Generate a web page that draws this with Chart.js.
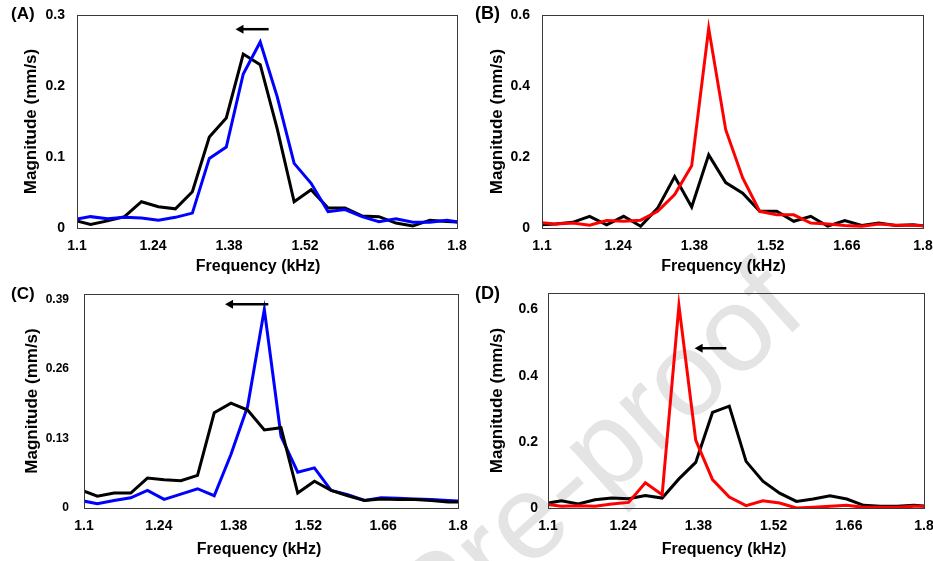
<!DOCTYPE html>
<html>
<head>
<meta charset="utf-8">
<script src="https://cdn.jsdelivr.net/npm/chart.js@4.4.1/dist/chart.umd.min.js"></script>
<style>
  html, body { margin: 0; padding: 0; background: #fff; }
  #wrap { position: relative; width: 933px; height: 561px; overflow: hidden; font-family: Arial, 'Liberation Sans', sans-serif; }
  #wrap canvas { position: absolute; }
  #wrap svg { position: absolute; left: 0; top: 0; }
  .tag { position: absolute; font-weight: bold; line-height: 1; color: #000; }
</style>
</head>
<body>
<div id="wrap">
  <svg width="933" height="561">
    <text id="mark" x="0" y="0" font-family="Arial, 'Liberation Sans', sans-serif" font-size="120" fill="#e4e4e4">Journal Pre-proof</text>
  </svg>
  <canvas id="chartA" width="490" height="300" style="left:0;top:-10px"></canvas>
  <canvas id="chartB" width="490" height="300" style="left:466px;top:-10px"></canvas>
  <canvas id="chartC" width="490" height="300" style="left:0;top:270px"></canvas>
  <canvas id="chartD" width="490" height="300" style="left:466px;top:270px"></canvas>
  <div class="tag" style="left:11px;top:5px;font-size:17px">(A)</div>
  <div class="tag" style="left:475px;top:4px;font-size:18px">(B)</div>
  <div class="tag" style="left:11px;top:285px;font-size:17px">(C)</div>
  <div class="tag" style="left:475px;top:284px;font-size:18px">(D)</div>
</div>
<script>
// ---- DATA ----
const freqKHz = [1.09375, 1.125, 1.15625, 1.1875, 1.21875, 1.25, 1.28125, 1.3125,
                 1.34375, 1.375, 1.40625, 1.4375, 1.46875, 1.5, 1.53125, 1.5625,
                 1.59375, 1.625, 1.65625, 1.6875, 1.71875, 1.75, 1.78125, 1.8125];

const xTicks = [1.1, 1.24, 1.38, 1.52, 1.66, 1.8];

const aBlack = [0.011, 0.005, 0.010, 0.016, 0.037, 0.030, 0.027, 0.051, 0.128, 0.155, 0.245, 0.230,
                0.140, 0.037, 0.054, 0.028, 0.028, 0.017, 0.016, 0.007, 0.003, 0.011, 0.009, 0.008];
const aBlue  = [0.012, 0.016, 0.013, 0.015, 0.014, 0.011, 0.015, 0.021, 0.098, 0.114, 0.217, 0.262,
                0.185, 0.091, 0.063, 0.023, 0.026, 0.016, 0.009, 0.013, 0.008, 0.008, 0.011, 0.007];
const aYTicks = [0, 0.1, 0.2, 0.3];

const bBlack = [0.009, 0.011, 0.016, 0.033, 0.009, 0.033, 0.005, 0.056, 0.145, 0.059, 0.206, 0.128,
                0.098, 0.047, 0.047, 0.019, 0.033, 0.005, 0.021, 0.007, 0.014, 0.007, 0.009, 0.005];
const bRed   = [0.016, 0.011, 0.014, 0.008, 0.021, 0.019, 0.022, 0.047, 0.094, 0.175, 0.5625, 0.277,
                0.141, 0.047, 0.037, 0.037, 0.014, 0.011, 0.007, 0.005, 0.011, 0.008, 0.008, 0.005];
const bYTicks = [0, 0.2, 0.4, 0.6];

const cBlack = [0.034, 0.022, 0.028, 0.028, 0.056, 0.053, 0.051, 0.061, 0.178, 0.196, 0.183, 0.146,
                0.150, 0.028, 0.050, 0.033, 0.023, 0.014, 0.017, 0.016, 0.016, 0.014, 0.011, 0.011];
const cBlue  = [0.014, 0.008, 0.014, 0.019, 0.033, 0.016, 0.026, 0.036, 0.023, 0.100, 0.190, 0.371,
                0.134, 0.067, 0.075, 0.033, 0.025, 0.014, 0.019, 0.018, 0.017, 0.016, 0.014, 0.0125];
const cYTicks = [0, 0.13, 0.26, 0.39];

const dBlack = [0.013, 0.022, 0.012, 0.025, 0.030, 0.028, 0.038, 0.030, 0.088, 0.138, 0.289, 0.308,
                0.141, 0.081, 0.045, 0.020, 0.027, 0.037, 0.027, 0.008, 0.005, 0.005, 0.008, 0.005];
const dRed   = [0.012, 0.005, 0.007, 0.005, 0.012, 0.017, 0.076, 0.040, 0.612, 0.205, 0.086, 0.033,
                0.007, 0.022, 0.015, 0.000, 0.002, 0.005, 0.008, 0.002, 0.002, 0.002, 0.005, 0.005];
const dYTicks = [0, 0.2, 0.4, 0.6];

// shift arrows, in data units (start kHz, tip kHz, magnitude)
const aArrow = [1.453, 1.392, 0.280];
const cArrow = [1.445, 1.364, 0.381];
const dArrow = [1.432, 1.373, 0.483];

// ---- WATERMARK ----
// "r" of "Pre-proof" sits on the baseline near the bottom edge, text tilted ~42 degrees
(function placeMark() {
  const t = document.getElementById('mark');
  const lead = t.getSubStringLength(0, 9);   // "Journal P"
  t.setAttribute('transform', `translate(497 598) rotate(-42) translate(${-lead} 0)`);
})();

// ---- STYLE ----
Chart.defaults.font.family = "Arial, 'Liberation Sans', sans-serif";
Chart.defaults.color = '#000';
const BLACK = '#000000', BLUE = '#0000FF', RED = '#FF0000';

const frameBox = {
  id: 'frameBox',
  afterDatasetsDraw(chart) {
    const { ctx, chartArea: a } = chart;
    ctx.save();
    ctx.strokeStyle = '#3a3a3a';
    ctx.lineWidth = 1;
    ctx.strokeRect(Math.round(a.left) + 0.5, Math.round(a.top) + 0.5,
                   Math.round(a.right - a.left), Math.round(a.bottom - a.top));
    ctx.restore();
  }
};

const shiftArrow = {
  id: 'shiftArrow',
  afterDatasetsDraw(chart, args, opts) {
    if (!opts.at) return;
    const { ctx, scales: { x, y } } = chart;
    const x0 = x.getPixelForValue(opts.at[0]);
    const x1 = x.getPixelForValue(opts.at[1]);
    const yy = y.getPixelForValue(opts.at[2]);
    ctx.save();
    ctx.strokeStyle = '#000';
    ctx.fillStyle = '#000';
    ctx.lineWidth = 2.5;
    ctx.beginPath();
    ctx.moveTo(x0, yy);
    ctx.lineTo(x1 + 6, yy);
    ctx.stroke();
    ctx.beginPath();
    ctx.moveTo(x1, yy);
    ctx.lineTo(x1 + 8, yy - 4.5);
    ctx.lineTo(x1 + 8, yy + 4.5);
    ctx.closePath();
    ctx.fill();
    ctx.restore();
  }
};

// x-axis caption, drawn a little left of the plot centre as in the figure
const xCaption = {
  id: 'xCaption',
  afterDraw(chart, args, opts) {
    const { ctx, chartArea: a } = chart;
    ctx.save();
    ctx.font = "bold 16px Arial, 'Liberation Sans', sans-serif";
    ctx.fillStyle = '#000';
    ctx.textAlign = 'center';
    ctx.textBaseline = 'middle';
    ctx.fillText(opts.text, (a.left + a.right) / 2 + opts.dx, opts.y);
    ctx.restore();
  }
};

function series(values, color, order) {
  return {
    data: freqKHz.map((f, i) => ({ x: f, y: values[i] })),
    borderColor: color,
    backgroundColor: color,
    borderWidth: 3,
    pointRadius: 0,
    tension: 0,
    clip: 0,
    order
  };
}

// g: plot area and axis-title centres in page pixels; the canvas is placed at (ox, oy)
function makePanel(id, datasets, yTicks, yMax, arrow, g) {
  const canvas = document.getElementById(id);
  const W = canvas.width, H = canvas.height;
  new Chart(canvas, {
    type: 'line',
    data: { datasets },
    plugins: [frameBox, shiftArrow, xCaption],
    options: {
      responsive: false,
      animation: false,
      events: [],
      layout: { padding: { left: 0, top: g.t - g.oy, right: W - (g.r - g.ox), bottom: 0 } },
      plugins: {
        legend: { display: false },
        tooltip: { enabled: false },
        shiftArrow: { at: arrow },
        xCaption: { text: 'Frequency (kHz)', dx: g.xTitleDx, y: g.xTitleY - g.oy }
      },
      scales: {
        x: {
          type: 'linear',
          min: 1.1,
          max: 1.8,
          afterBuildTicks: s => { s.ticks = xTicks.map(v => ({ value: v })); },
          afterFit: s => { s.height = H - (g.b - g.oy); },
          grid: { display: false, drawTicks: false },
          border: { display: false },
          ticks: { autoSkip: false, maxRotation: 0, padding: 10,
                   font: { size: 14, weight: 'bold' }, callback: v => String(v) }
        },
        y: {
          min: 0,
          max: yMax,
          afterBuildTicks: s => { s.ticks = yTicks.map(v => ({ value: v })); },
          afterFit: s => { s.width = g.l - g.ox; },
          grid: { display: false, drawTicks: false },
          border: { display: false },
          ticks: { padding: g.yPad, font: { size: g.yFont, weight: 'bold' }, callback: v => String(v) },
          title: { display: true, text: 'Magnitude (mm/s)', font: { size: 17, weight: 'bold' },
                   padding: { top: g.yTitleX - g.ox - 10.2, bottom: 0 } }
        }
      }
    }
  });
}

makePanel('chartA', [series(aBlue, BLUE, 1), series(aBlack, BLACK, 2)], aYTicks, 0.3, aArrow,
  { ox: 0, oy: -10, l: 77, t: 15, r: 457, b: 228, yPad: 12, yFont: 14, yTitleX: 31, xTitleY: 267, xTitleDx: -9 });
makePanel('chartB', [series(bRed, RED, 1), series(bBlack, BLACK, 2)], bYTicks, 0.6, null,
  { ox: 466, oy: -10, l: 542, t: 15, r: 923, b: 228, yPad: 12, yFont: 14, yTitleX: 497, xTitleY: 267, xTitleDx: -9 });
makePanel('chartC', [series(cBlack, BLACK, 1), series(cBlue, BLUE, 2)], cYTicks, 0.4, cArrow,
  { ox: 0, oy: 270, l: 84, t: 294, r: 458, b: 508, yPad: 15, yFont: 12, yTitleX: 32, xTitleY: 550, xTitleDx: -12 });
makePanel('chartD', [series(dRed, RED, 1), series(dBlack, BLACK, 2)], dYTicks, 0.65, dArrow,
  { ox: 466, oy: 270, l: 548, t: 293, r: 924, b: 508, yPad: 10, yFont: 14, yTitleX: 497, xTitleY: 550, xTitleDx: -12 });
</script>
</body>
</html>
